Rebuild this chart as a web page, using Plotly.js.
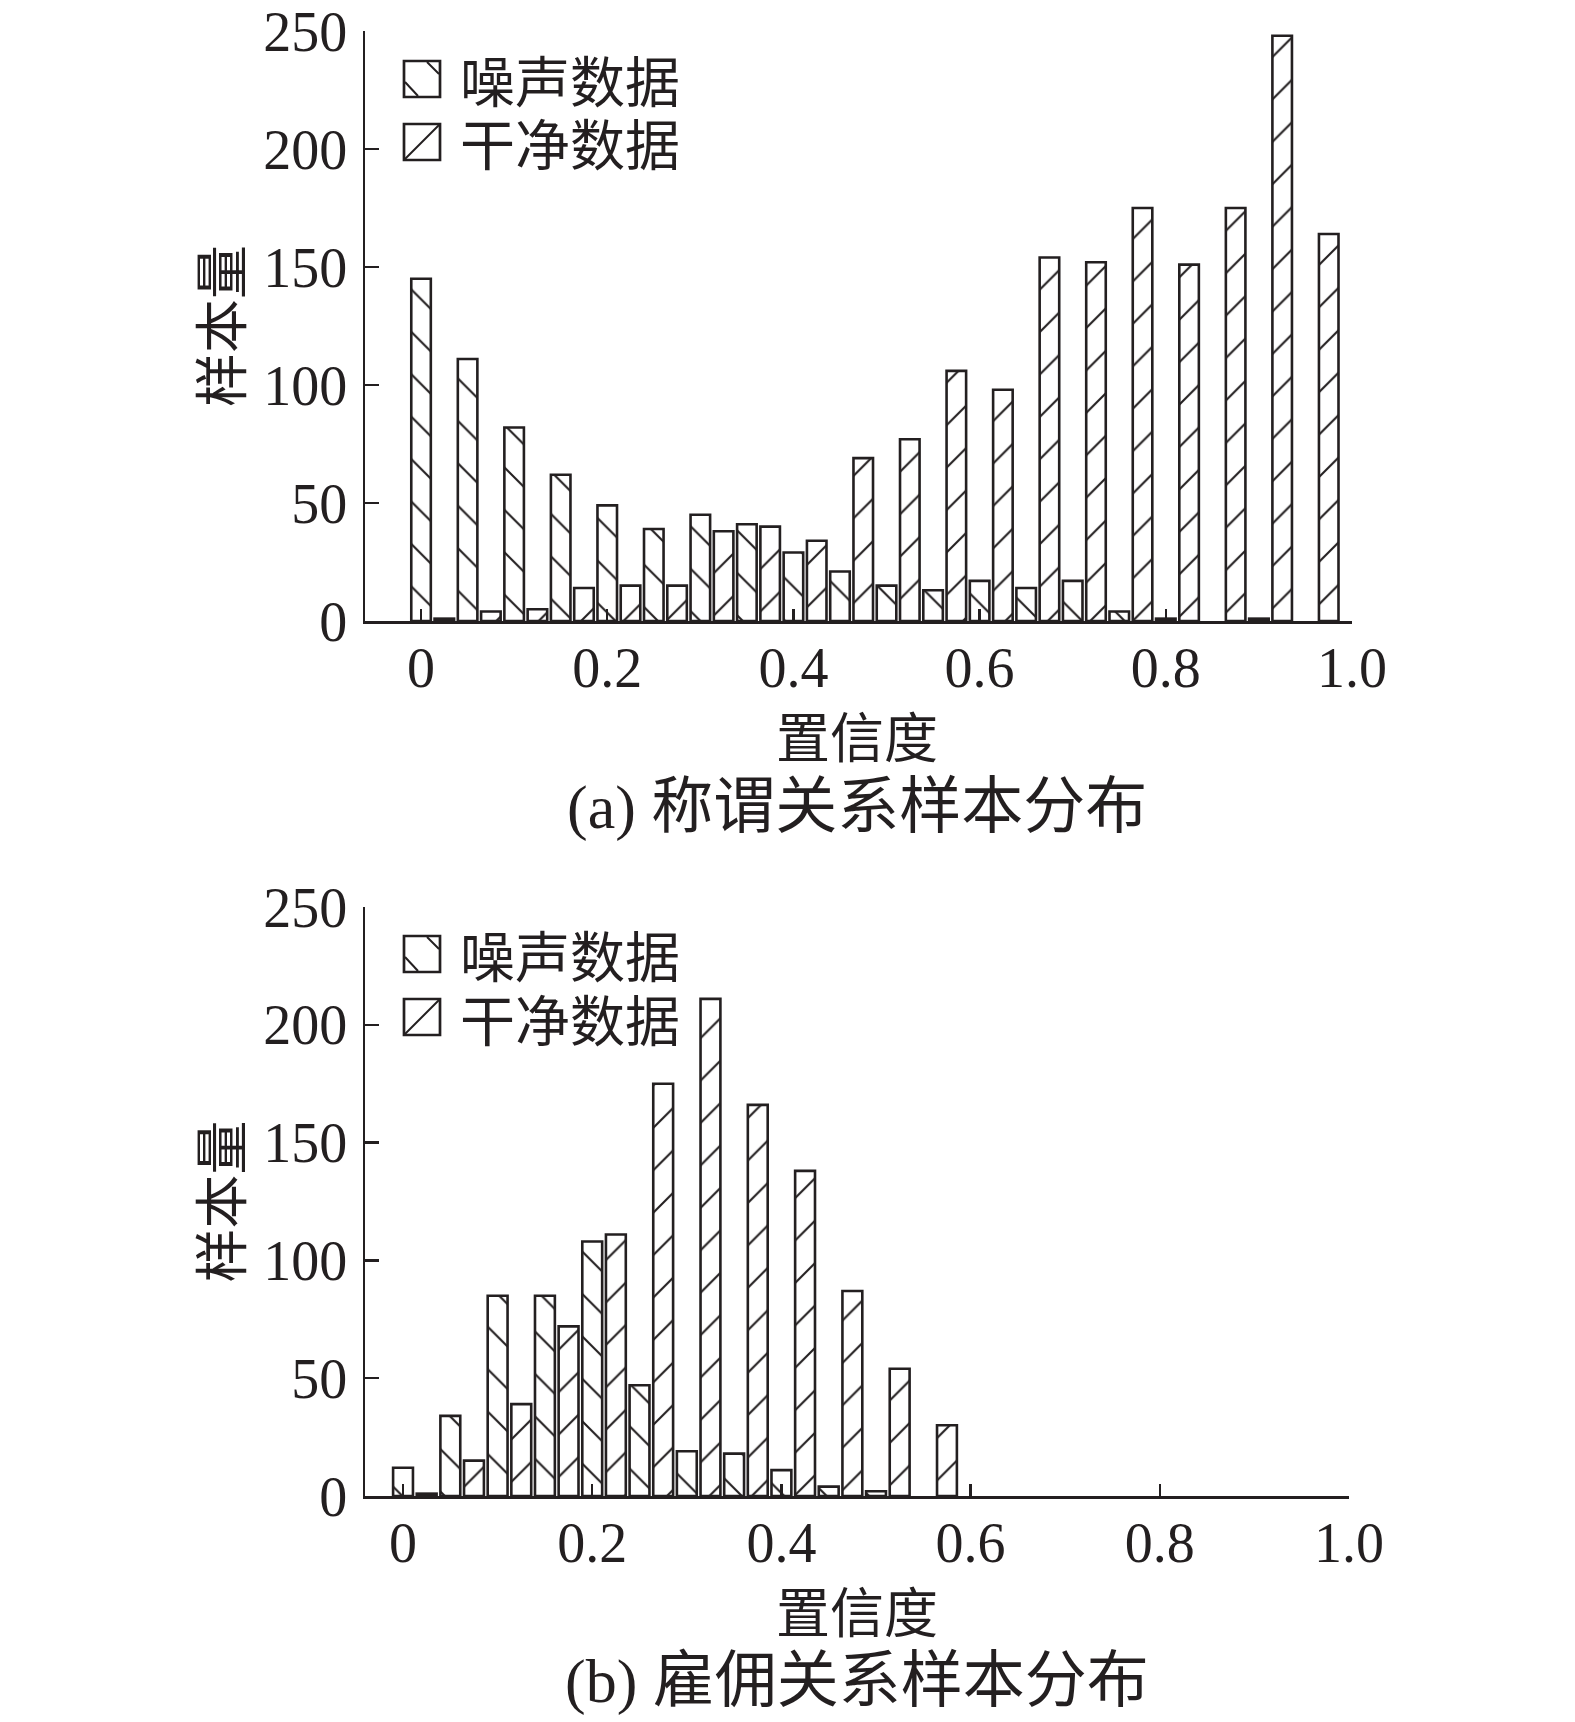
<!DOCTYPE html>
<html>
<head>
<meta charset="utf-8">
<script src="https://cdn.plot.ly/plotly-3.0.1.min.js"></script>
<style>html,body{margin:0;padding:0;background:#fff;}</style>
</head>
<body>
<div id="chart" style="width:1575px;height:1722px;"></div>
<script>
// ---- data ----
const noisyBins = [0, 0.05, 0.1, 0.15, 0.2, 0.25, 0.3, 0.35, 0.4, 0.45, 0.5, 0.55, 0.6, 0.65, 0.7, 0.75, 0.8, 0.85, 0.9, 0.95];
const cleanBins = [0.025, 0.075, 0.125, 0.175, 0.225, 0.275, 0.325, 0.375, 0.425, 0.475, 0.525, 0.575, 0.625, 0.675, 0.725, 0.775, 0.825, 0.875, 0.925, 0.975];

// (a) 称谓关系
const noisyA = [145, 111, 82, 62, 49, 39, 45, 41, 29, 21, 15, 13, 17, 14, 17, 4, 1, 0, 1, 0];
const cleanA = [1, 4, 5, 14, 15, 15, 38, 40, 34, 69, 77, 106, 98, 154, 152, 175, 151, 175, 248, 164];
// (b) 雇佣关系
const noisyB = [12, 34, 85, 85, 108, 47, 19, 18, 11, 4, 2, 0, 0, 0, 0, 0, 0, 0, 0, 0];
const cleanB = [1, 15, 39, 72, 111, 175, 211, 166, 138, 87, 54, 30, 0, 0, 0, 0, 0, 0, 0, 0];

const xTickVals = [0, 0.2, 0.4, 0.6, 0.8, 1.0];
const xTickText = ['0', '0.2', '0.4', '0.6', '0.8', '1.0'];
const yTickVals = [0, 50, 100, 150, 200, 250];
const yTickText = ['0', '50', '100', '150', '200', '250'];

const seriesNames = ['噪声数据', '干净数据'];
const xTitle = '置信度';
const yTitle = '样本量';
const subtitles = ['(a) 称谓关系样本分布', '(b) 雇佣关系样本分布'];

// ---- style ----
const INK = '#231f20';
const W = 1575, H = 1722;
const SERIF = 'Liberation Serif, Noto Sans CJK SC, serif';
const CJK = 'Noto Sans CJK SC, sans-serif';
const px = v => v / W;
const py = v => 1 - v / H;

function barTrace(x, y, name, shape, xa, ya) {
  return {
    type: 'bar', x: x,
    // empty bins are not drawn in the reference (no flat outline on the axis)
    y: y.map(v => (v === 0 ? null : v)),
    name: name, xaxis: xa, yaxis: ya,
    width: 0.021, showlegend: false,
    marker: {
      color: 'white',
      line: {color: INK, width: 2.6},
      pattern: {shape: shape, fgcolor: INK, bgcolor: 'white', size: 30, solidity: 0.07, fillmode: 'replace'}
    }
  };
}

const data = [
  barTrace(noisyBins, noisyA, seriesNames[0], '\\', 'x', 'y'),
  barTrace(cleanBins, cleanA, seriesNames[1], '/', 'x', 'y'),
  barTrace(noisyBins, noisyB, seriesNames[0], '\\', 'x2', 'y2'),
  barTrace(cleanBins, cleanB, seriesNames[1], '/', 'x2', 'y2')
];

function xAxis(domain, range, anchor) {
  return {
    domain: domain, range: range, anchor: anchor,
    showline: true, linecolor: INK, linewidth: 2.5,
    ticks: 'inside', ticklen: 12, tickwidth: 2.5, tickcolor: INK,
    tickmode: 'array', tickvals: xTickVals, ticktext: xTickText,
    tickfont: {family: SERIF, size: 56, color: INK},
    ticklabelstandoff: -4,
    showgrid: false, zeroline: false, fixedrange: true
  };
}
function yAxis(domain, anchor) {
  return {
    domain: domain, range: [0, 250], anchor: anchor,
    showline: true, linecolor: INK, linewidth: 2.5,
    ticks: 'inside', ticklen: 14, tickwidth: 2.5, tickcolor: INK,
    tickmode: 'array', tickvals: yTickVals, ticktext: yTickText,
    tickfont: {family: SERIF, size: 56, color: INK},
    ticklabelstandoff: 4,
    showgrid: false, zeroline: false, fixedrange: true,
    title: {text: yTitle, font: {family: CJK, size: 54, color: INK}, standoff: 4}
  };
}

// legend drawn as decoration (boxes with hatch marks + text)
function legendShapes(boxTop1, boxTop2) {
  const L = 404, S = 36;
  const sh = [];
  const rect = (t) => ({type: 'rect', xref: 'paper', yref: 'paper',
    x0: px(L), x1: px(L + S), y0: py(t + S), y1: py(t), line: {color: INK, width: 2.7}, fillcolor: 'white'});
  const seg = (x0, y0, x1, y1) => ({type: 'line', xref: 'paper', yref: 'paper',
    x0: px(x0), y0: py(y0), x1: px(x1), y1: py(y1), line: {color: INK, width: 2}});
  sh.push(rect(boxTop1));
  sh.push(seg(L + 23, boxTop1 + 1, L + S - 1, boxTop1 + 13));
  sh.push(seg(L + 1, boxTop1 + 21, L + 14, boxTop1 + S - 1));
  sh.push(rect(boxTop2));
  sh.push(seg(L + 1, boxTop2 + S - 1, L + S - 1, boxTop2 + 1));
  return sh;
}
function legendTexts(c1, c2) {
  return [
    {text: seriesNames[0], x: px(458), y: py(c1), xref: 'paper', yref: 'paper', xanchor: 'left', yanchor: 'middle',
      showarrow: false, font: {family: CJK, size: 55, color: INK}},
    {text: seriesNames[1], x: px(458), y: py(c2), xref: 'paper', yref: 'paper', xanchor: 'left', yanchor: 'middle',
      showarrow: false, font: {family: CJK, size: 55, color: INK}}
  ];
}
function caption(text, cy, size, family) {
  return {text: text, x: px(857), y: py(cy), xref: 'paper', yref: 'paper', xanchor: 'center', yanchor: 'middle',
    showarrow: false, font: {family: family, size: size, color: INK}};
}

const layout = {
  width: W, height: H,
  margin: {l: 0, r: 0, t: 0, b: 0},
  paper_bgcolor: 'white', plot_bgcolor: 'white',
  barmode: 'overlay', showlegend: false,
  font: {family: SERIF, color: INK},
  xaxis: xAxis([px(365), px(1352)], [-0.0602, 1.0], 'y'),
  yaxis: yAxis([py(621), py(31)], 'x'),
  xaxis2: xAxis([px(365), px(1349)], [-0.0402, 1.0], 'y2'),
  yaxis2: yAxis([py(1496), py(907)], 'x2'),
  shapes: legendShapes(61, 124).concat(legendShapes(936, 999)),
  annotations: legendTexts(78, 141).concat(legendTexts(953, 1017)).concat([
    caption(xTitle, 735, 54, CJK),
    caption(xTitle, 1609, 54, CJK),
    caption(subtitles[0], 807, 62, SERIF),
    caption(subtitles[1], 1681, 62, SERIF)
  ])
};

Plotly.newPlot('chart', data, layout, {displayModeBar: false, staticPlot: true});
</script>
</body>
</html>
